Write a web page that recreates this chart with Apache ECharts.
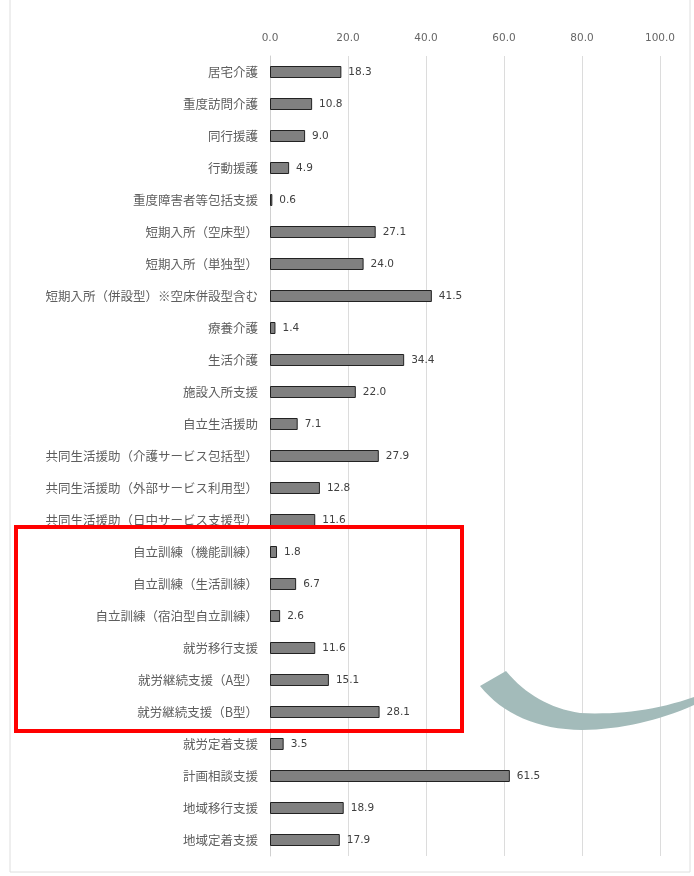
<!DOCTYPE html>
<html>
<head>
<meta charset="utf-8">
<script src="https://cdn.jsdelivr.net/npm/echarts@6/dist/echarts.min.js"></script>
<style>
  html, body { margin: 0; padding: 0; background: #ffffff; }
  #chart { width: 694px; height: 876px; }
</style>
</head>
<body>
<div id="chart"></div>
<script>
// Service categories (top to bottom)
const categories = [
  '居宅介護',
  '重度訪問介護',
  '同行援護',
  '行動援護',
  '重度障害者等包括支援',
  '短期入所（空床型）',
  '短期入所（単独型）',
  '短期入所（併設型）※空床併設型含む',
  '療養介護',
  '生活介護',
  '施設入所支援',
  '自立生活援助',
  '共同生活援助（介護サービス包括型）',
  '共同生活援助（外部サービス利用型）',
  '共同生活援助（日中サービス支援型）',
  '自立訓練（機能訓練）',
  '自立訓練（生活訓練）',
  '自立訓練（宿泊型自立訓練）',
  '就労移行支援',
  '就労継続支援（A型）',
  '就労継続支援（B型）',
  '就労定着支援',
  '計画相談支援',
  '地域移行支援',
  '地域定着支援'
];

// Percentage per category
const values = [
  18.3, 10.8, 9.0, 4.9, 0.6,
  27.1, 24.0, 41.5, 1.4, 34.4,
  22.0, 7.1, 27.9, 12.8, 11.6,
  1.8, 6.7, 2.6, 11.6, 15.1,
  28.1, 3.5, 61.5, 18.9, 17.9
];

// Value axis ticks
const axisMin = 0;
const axisMax = 100;
const axisStep = 20;

const chart = echarts.init(document.getElementById('chart'), null, { renderer: 'canvas' });

const cjkFont = '"Noto Sans CJK JP", "Noto Sans", sans-serif';
const numFont = '"DejaVu Sans", sans-serif';

// Sample a quadratic bezier into points
function quad(p0, c, p1, n) {
  const pts = [];
  for (let i = 0; i <= n; i++) {
    const t = i / n, u = 1 - t;
    pts.push([u * u * p0[0] + 2 * u * t * c[0] + t * t * p1[0],
              u * u * p0[1] + 2 * u * t * c[1] + t * t * p1[1]]);
  }
  return pts;
}

// Curved arrow-like band at the lower right
const bandTop = quad([506, 671], [535, 706], [580, 713], 16)
  .concat(quad([580, 713], [640, 716], [694, 697], 16).slice(1));
const bandBottom = quad([694, 705], [640, 729], [582, 730], 16)
  .concat(quad([582, 730], [515, 729], [480, 686], 16).slice(1));
const bandPoints = bandTop.concat(bandBottom);

chart.setOption({
  backgroundColor: '#ffffff',
  animation: false,
  grid: { left: 270, right: 34, top: 56, height: 800, containLabel: false },
  xAxis: {
    type: 'value',
    position: 'top',
    min: axisMin,
    max: axisMax,
    interval: axisStep,
    axisLine: { show: false },
    axisTick: { show: false },
    splitLine: { show: true, lineStyle: { color: '#dcdcdc', width: 1 } },
    axisLabel: {
      formatter: v => v.toFixed(1),
      color: '#666666',
      fontFamily: numFont,
      fontSize: 10.5,
      margin: 12
    }
  },
  yAxis: {
    type: 'category',
    inverse: true,
    data: categories,
    axisLine: { show: true, lineStyle: { color: '#d0d0d0' } },
    axisTick: { show: false },
    axisLabel: {
      color: '#5e5e5e',
      fontFamily: cjkFont,
      fontSize: 12.5,
      margin: 12
    }
  },
  series: [{
    type: 'bar',
    data: values,
    barWidth: 12,
    itemStyle: { color: '#808080', borderColor: '#222222', borderWidth: 1 },
    label: {
      show: true,
      position: 'right',
      distance: 7,
      formatter: p => p.value.toFixed(1),
      color: '#404040',
      fontFamily: numFont,
      fontSize: 10.5
    }
  }],
  graphic: [
    {
      type: 'rect',
      shape: { x: 10, y: -2, width: 680, height: 874 },
      style: { fill: 'none', stroke: '#dedede', lineWidth: 1 },
      silent: true,
      z: 0
    },
    {
      type: 'rect',
      shape: { x: 16, y: 527, width: 446, height: 204 },
      style: { fill: 'none', stroke: '#ff0000', lineWidth: 4 },
      silent: true,
      z: 100
    },
    {
      type: 'polygon',
      shape: { points: bandPoints },
      style: { fill: '#a3bbba' },
      silent: true,
      z: 100
    }
  ]
});
</script>
</body>
</html>
